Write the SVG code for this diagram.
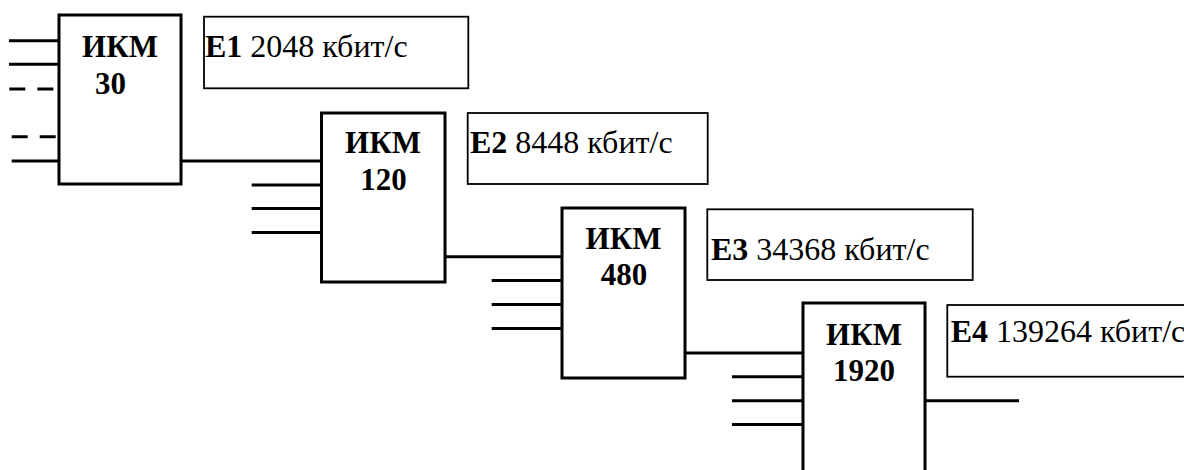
<svg xmlns="http://www.w3.org/2000/svg" width="1184" height="470" viewBox="0 0 1184 470">
<style>
.blk{fill:#fff;stroke:#000;stroke-width:3}
.lbl{fill:#fff;stroke:#000;stroke-width:1.8}
.t{font-family:'Liberation Serif','DejaVu Serif',serif;font-size:31px;fill:#000}
.l{font-size:32px}
.b{font-weight:bold}
.c{text-anchor:middle}
line{stroke:#000;stroke-width:3}
.d{stroke-dasharray:16 12}
</style>
<rect width="1184" height="470" fill="#fff"/>
<g id="connectors">
<line x1="9" y1="40.7" x2="59" y2="40.7"/>
<line x1="9" y1="64.3" x2="59" y2="64.3"/>
<line class="d" x1="9.3" y1="89" x2="59" y2="89"/>
<line class="d" x1="11.7" y1="136.7" x2="59" y2="136.7"/>
<line x1="11.7" y1="161" x2="59" y2="161"/>
<line x1="181" y1="161" x2="321" y2="161"/>
<line x1="251.7" y1="185" x2="321" y2="185"/>
<line x1="251.7" y1="208.5" x2="321" y2="208.5"/>
<line x1="251.7" y1="232.5" x2="321" y2="232.5"/>
<line x1="445" y1="256.7" x2="562" y2="256.7"/>
<line x1="491.7" y1="280.5" x2="562" y2="280.5"/>
<line x1="491.7" y1="304.5" x2="562" y2="304.5"/>
<line x1="491.7" y1="328.5" x2="562" y2="328.5"/>
<line x1="685" y1="353" x2="803" y2="353"/>
<line x1="732" y1="376.7" x2="803" y2="376.7"/>
<line x1="732" y1="400.7" x2="803" y2="400.7"/>
<line x1="732" y1="424.5" x2="803" y2="424.5"/>
<line x1="925" y1="400.7" x2="1019" y2="400.7"/>
</g>
<g id="ikm30">
<rect class="blk" x="59" y="15" width="122" height="169"/>
<text class="t b c" x="120" y="56.7">ИКМ</text>
<text class="t b c" x="110.5" y="94">30</text>
</g>
<g id="ikm120">
<rect class="blk" x="321.5" y="113" width="123.5" height="169"/>
<text class="t b c" x="383" y="153.3">ИКМ</text>
<text class="t b c" x="383.5" y="190">120</text>
</g>
<g id="ikm480">
<rect class="blk" x="562" y="208" width="123" height="170"/>
<text class="t b c" x="623.5" y="249.3">ИКМ</text>
<text class="t b c" x="624" y="285">480</text>
</g>
<g id="ikm1920">
<rect class="blk" x="803" y="303" width="122" height="180"/>
<text class="t b c" x="864" y="345">ИКМ</text>
<text class="t b c" x="864" y="380.7">1920</text>
</g>
<g id="e1">
<rect class="lbl" x="204" y="16.7" width="264.3" height="71.6"/>
<text class="t l" x="205" y="56.7"><tspan class="b">E1</tspan> 2048 кбит/с</text>
</g>
<g id="e2">
<rect class="lbl" x="467.7" y="113" width="240" height="71"/>
<text class="t l" x="470" y="153.3"><tspan class="b">E2</tspan> 8448 кбит/с</text>
</g>
<g id="e3">
<rect class="lbl" x="707.3" y="209.3" width="265.4" height="70.7"/>
<text class="t l" x="711" y="260"><tspan class="b">E3</tspan> 34368 кбит/с</text>
</g>
<g id="e4">
<rect class="lbl" x="947.3" y="305" width="260" height="71.7"/>
<text class="t l" x="950.7" y="341.7"><tspan class="b">E4</tspan> 139264 кбит/с</text>
</g>
</svg>
